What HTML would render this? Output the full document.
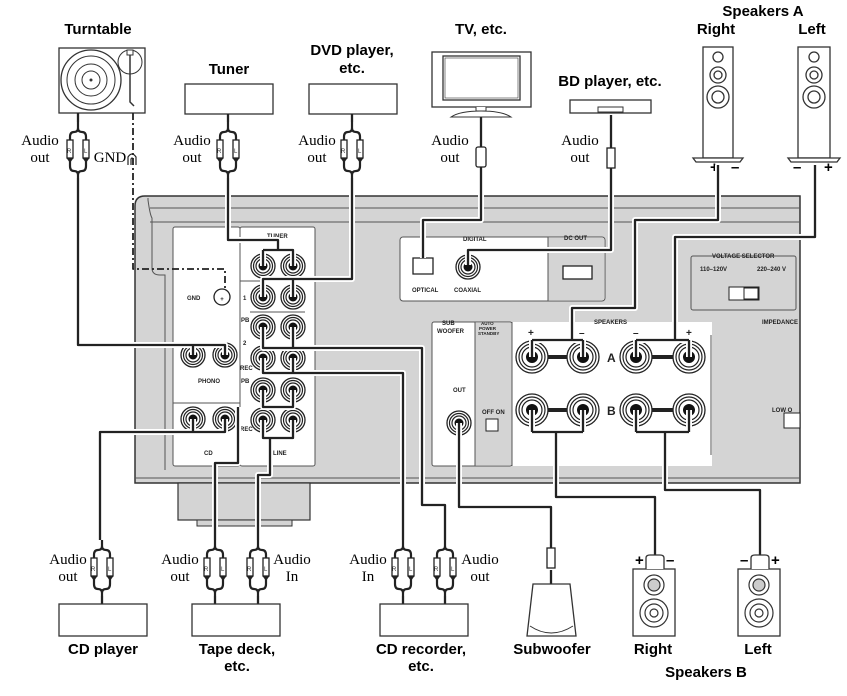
<!DOCTYPE html>
<html><head><meta charset="utf-8"><style>
html,body{margin:0;padding:0;background:#fff;width:847px;height:696px;overflow:hidden}
svg{display:block}
.b{font-family:"Liberation Sans",sans-serif;font-weight:bold;font-size:15px;fill:#000}
.s{font-family:"Liberation Serif",serif;font-size:15px;fill:#000}
.t{font-family:"Liberation Sans",sans-serif;font-weight:bold;font-size:6px;fill:#222}
.pl{font-family:"Liberation Sans",sans-serif;font-size:6px;fill:#333}
</style></head><body>
<svg width="847" height="696" viewBox="0 0 847 696" xmlns="http://www.w3.org/2000/svg">
<defs>
<g id="jack"><circle r="12" fill="#fff" stroke="#222" stroke-width="1.3"/><circle r="9.5" fill="none" stroke="#222" stroke-width="1.2"/><circle r="7" fill="none" stroke="#222" stroke-width="1.2"/><circle r="4.5" fill="#111"/></g>
<g id="spk"><circle r="16" fill="#fff" stroke="#222" stroke-width="1.3"/><circle r="13" fill="none" stroke="#222" stroke-width="1.2"/><circle r="10" fill="none" stroke="#222" stroke-width="1.2"/><circle r="6" fill="#111"/></g>
<g id="pair" fill="none" stroke="#222">
<path d="M0,-28 V-22 Q0,-18 -4,-18 Q-8,-18 -8,-13 V-10 M0,-22 Q0,-18 4,-18 Q8,-18 8,-13 V-10" stroke-width="2.2"/>
<path d="M-8,10 V16 Q-8,21 -4,21 Q0,21 0,25 V28 M8,10 V16 Q8,21 4,21 Q0,21 0,25" stroke-width="2.2"/>
<rect x="-11" y="-10" width="6" height="18" fill="#fff" stroke-width="1.3"/><rect x="5" y="-10" width="6" height="18" fill="#fff" stroke-width="1.3"/>
<path d="M-11,8 L-8,12 L-5,8 M5,8 L8,12 L11,8" fill="#222" stroke-width="1"/>
</g>
</defs>

<!-- device boxes top -->
<rect x="59" y="48" width="86" height="65" fill="#fff" stroke="#333" stroke-width="1.3"/>
<circle cx="91" cy="80" r="30" fill="none" stroke="#333" stroke-width="1.3"/><circle cx="91" cy="80" r="24" fill="none" stroke="#333"/><circle cx="91" cy="80" r="16" fill="none" stroke="#333"/><circle cx="91" cy="80" r="9" fill="none" stroke="#333"/><circle cx="91" cy="80" r="1.5" fill="#333"/>
<circle cx="130" cy="62" r="12" fill="none" stroke="#333"/><path d="M130,52 V102 L134,106" stroke="#333" stroke-width="1.5" fill="none"/><rect x="127" y="50" width="6" height="5" fill="#fff" stroke="#333"/>
<rect x="185" y="84" width="88" height="30" fill="#fff" stroke="#333" stroke-width="1.3"/>
<rect x="309" y="84" width="88" height="30" fill="#fff" stroke="#333" stroke-width="1.3"/>
<rect x="432" y="52" width="99" height="55" fill="#fff" stroke="#333" stroke-width="1.3"/><rect x="443" y="56" width="77" height="44" fill="#fff" stroke="#333" stroke-width="1.3"/><rect x="445" y="58" width="73" height="40" fill="none" stroke="#333" stroke-width=".6"/>
<path d="M476,107 V111 H486 V107 M451,117 Q460,111 481,111 Q502,111 511,117 Z" fill="#fff" stroke="#333"/>
<rect x="570" y="100" width="81" height="13" fill="#fff" stroke="#333" stroke-width="1.3"/><rect x="598" y="107" width="25" height="5" fill="#fff" stroke="#333"/>
<g fill="#fff" stroke="#333" stroke-width="1.3">
<rect x="703" y="47" width="30" height="111"/><path d="M693,158 H743 L740,162 H696 Z"/>
<rect x="798" y="47" width="32" height="111"/><path d="M788,158 H840 L837,162 H791 Z"/>
</g>
<g fill="none" stroke="#333" stroke-width="1.3">
<circle cx="718" cy="57" r="5"/><circle cx="718" cy="75" r="8"/><circle cx="718" cy="75" r="4"/><circle cx="718" cy="97" r="11"/><circle cx="718" cy="97" r="6"/>
<circle cx="814" cy="57" r="5"/><circle cx="814" cy="75" r="8"/><circle cx="814" cy="75" r="4"/><circle cx="814" cy="97" r="11"/><circle cx="814" cy="97" r="6"/>
</g>
<text class="b" x="710" y="172" font-size="11">+</text><text class="b" x="731" y="172" font-size="11">–</text>
<text class="b" x="793" y="172" font-size="11">–</text><text class="b" x="824" y="172" font-size="11">+</text>

<!-- panel -->
<path d="M145,196 H800 V483 H135 V206 Q135,196 145,196 Z" fill="#d4d4d4" stroke="#333" stroke-width="1.5"/>
<path d="M148,198 V200 Q150,215 152,218 V268 Q152,275 160,275 H165 V470 M150,222 H800 M150,208 H800 M135,478 H800" fill="none" stroke="#555" stroke-width="1"/>
<rect x="178" y="483" width="132" height="37" fill="#d4d4d4" stroke="#333" stroke-width="1.2"/>
<rect x="197" y="520" width="95" height="6" fill="#d4d4d4" stroke="#333"/>
<rect x="173" y="227" width="67" height="239" fill="#fff" stroke="#555" rx="2"/>
<line x1="173" y1="403" x2="240" y2="403" stroke="#555"/>
<rect x="240" y="227" width="75" height="239" fill="#fff" stroke="#555" rx="2"/>
<line x1="240" y1="281" x2="315" y2="281" stroke="#555"/><line x1="250" y1="312" x2="305" y2="312" stroke="#555"/>
<rect x="400" y="237" width="205" height="64" fill="#fff" stroke="#555" rx="3"/>
<rect x="548" y="238" width="56" height="62" fill="#d4d4d4"/><line x1="548" y1="237" x2="548" y2="301" stroke="#555"/>
<rect x="563" y="266" width="29" height="13" fill="#fff" stroke="#222" stroke-width="1.3"/>
<rect x="432" y="322" width="80" height="144" fill="#fff" stroke="#555" rx="2"/>
<rect x="475" y="323" width="37" height="142" fill="#d4d4d4"/><line x1="475" y1="322" x2="475" y2="466" stroke="#555"/>
<rect x="512" y="322" width="200" height="144" fill="#fff"/><line x1="512" y1="322" x2="512" y2="466" stroke="#555"/>
<line x1="711" y1="335" x2="711" y2="455" stroke="#555"/>
<rect x="691" y="256" width="105" height="54" fill="none" stroke="#555" rx="2"/>
<rect x="729" y="287" width="30" height="13" fill="#fff" stroke="#222"/><rect x="744" y="288" width="14" height="11" fill="none" stroke="#222"/>
<rect x="784" y="413" width="16" height="15" fill="#fff" stroke="#222"/>
<rect x="486" y="419" width="12" height="12" fill="#fff" stroke="#222"/>
<path d="M423,258 h-10 v16 h20 v-16 z" fill="#fff" stroke="#222" stroke-width="1.3"/>

<use href="#jack" x="263" y="266"/><use href="#jack" x="293" y="266"/>
<use href="#jack" x="263" y="297"/><use href="#jack" x="293" y="297"/>
<use href="#jack" x="263" y="327"/><use href="#jack" x="293" y="327"/>
<use href="#jack" x="263" y="358"/><use href="#jack" x="293" y="358"/>
<use href="#jack" x="263" y="390"/><use href="#jack" x="293" y="390"/>
<use href="#jack" x="263" y="420"/><use href="#jack" x="293" y="420"/>
<use href="#jack" x="193" y="355"/><use href="#jack" x="225" y="355"/>
<use href="#jack" x="193" y="419"/><use href="#jack" x="225" y="419"/>
<use href="#jack" x="468" y="267"/><use href="#jack" x="459" y="423"/>
<circle cx="222" cy="297" r="8" fill="#fff" stroke="#222" stroke-width="1.3"/><text x="222" y="301" text-anchor="middle" class="t" font-size="11">+</text>
<line x1="532" y1="357" x2="583" y2="357" stroke="#222" stroke-width="4"/><line x1="636" y1="357" x2="689" y2="357" stroke="#222" stroke-width="4"/>
<line x1="532" y1="410" x2="583" y2="410" stroke="#222" stroke-width="4"/><line x1="636" y1="410" x2="689" y2="410" stroke="#222" stroke-width="4"/>
<use href="#spk" x="532" y="357"/><use href="#spk" x="583" y="357"/><use href="#spk" x="636" y="357"/><use href="#spk" x="689" y="357"/>
<use href="#spk" x="532" y="410"/><use href="#spk" x="583" y="410"/><use href="#spk" x="636" y="410"/><use href="#spk" x="689" y="410"/>

<!-- panel labels -->
<g class="t">
<text x="267" y="238">TUNER</text><text x="187" y="300">GND</text><text x="243" y="300">1</text>
<text x="241" y="322">PB</text><text x="243" y="345">2</text><text x="240" y="370">REC</text><text x="241" y="383">PB</text><text x="240" y="431">REC</text>
<text x="198" y="383">PHONO</text><text x="204" y="455">CD</text><text x="273" y="455">LINE</text>
<text x="463" y="241">DIGITAL</text><text x="412" y="292">OPTICAL</text><text x="454" y="292">COAXIAL</text>
<text x="564" y="240">DC OUT</text><text x="442" y="325">SUB</text><text x="437" y="333">WOOFER</text><text x="453" y="392">OUT</text>
<text x="481" y="325" font-size="4.5">AUTO</text><text x="479" y="330" font-size="4.5">POWER</text><text x="478" y="335" font-size="4.5">STANDBY</text><text x="482" y="414">OFF ON</text>
<text x="594" y="324">SPEAKERS</text><text x="762" y="324">IMPEDANCE</text><text x="712" y="258">VOLTAGE SELECTOR</text>
<text x="700" y="271">110–120V</text><text x="757" y="271">220–240 V</text><text x="772" y="412">LOW O</text>
<text x="607" y="362" font-size="12">A</text><text x="607" y="415" font-size="12">B</text>
<text x="528" y="336" font-size="10">+</text><text x="579" y="336" font-size="10">–</text><text x="633" y="336" font-size="10">–</text><text x="686" y="336" font-size="10">+</text>
</g>

<!-- cables (white halo + black) -->
<g fill="none" stroke-linejoin="round">
<g stroke="#fff" stroke-width="6">
<path d="M78,178 V345 H225 V355 M193,345 V355"/>
<path d="M228,178 V240 H278 V250 M263,250 H293 V266 M263,250 V266"/>
<path d="M352,178 V279 H263 V297 M293,279 V297"/>
<path d="M481,175 V220 H423 V258"/>
<path d="M611,175 V250 H468 V265"/>
<path d="M718,165 V220 H635 V308 H572 V340 M532,340 H583 M532,340 V357 M583,340 V357"/>
<path d="M815,165 V237 H675 V340 M636,340 H689 M636,340 V357 M689,340 V357"/>
<path d="M556,432 V497 H655 V560 M532,432 H583 M532,410 V432 M583,410 V432"/>
<path d="M665,432 V490 H760 V560 M636,432 H689 M636,410 V432 M689,410 V432"/>
<path d="M459,423 V507 H551 V545"/>
<path d="M193,419 V432 H225 V419 M209,432 H100 V540"/>
<path d="M263,390 V407 H293 V390 M238,407 V463 H215 V540"/>
<path d="M263,420 V438 H293 V420 M270,438 V475 H258 V540"/>
<path d="M263,358 V373 H293 V358 M293,373 H403 V540"/>
<path d="M263,327 V348 H293 V327 M293,348 H422 V505 H445 V540"/>
</g>
<g stroke="#222" stroke-width="2.3">
<path d="M78,113 V122 M228,114 V122 M352,114 V122 M481,117 V147 M611,115 V148 M551,570 V584 M102,596 V604 M215,596 V604 M258,596 V604 M403,596 V604 M445,596 V604"/>
<path d="M78,178 V345 H225 V355 M193,345 V355"/>
<path d="M228,178 V240 H278 V250 M263,250 H293 V266 M263,250 V266"/>
<path d="M352,178 V279 H263 V297 M293,279 V297"/>
<path d="M481,165 V220 H423 V258"/>
<path d="M611,168 V250 H468 V265"/>
<path d="M718,165 V220 H635 V308 H572 V340 M532,340 H583 M532,340 V357 M583,340 V357"/>
<path d="M815,165 V237 H675 V340 M636,340 H689 M636,340 V357 M689,340 V357"/>
<path d="M556,432 V497 H655 V560 M532,432 H583 M532,410 V432 M583,410 V432"/>
<path d="M665,432 V490 H760 V560 M636,432 H689 M636,410 V432 M689,410 V432"/>
<path d="M459,423 V507 H551 V548"/>
<path d="M193,419 V432 H225 V419 M209,432 H100 V540"/>
<path d="M263,390 V407 H293 V390 M238,407 V463 H215 V540"/>
<path d="M263,420 V438 H293 V420 M270,438 V475 H258 V540"/>
<path d="M263,358 V373 H293 V358 M293,373 H403 V540"/>
<path d="M263,327 V348 H293 V327 M293,348 H422 V505 H445 V540"/>
</g>
<path d="M133,113 V269 H225 V290" stroke="#222" stroke-width="1.8" stroke-dasharray="7,3,2,3"/>
</g>
<path d="M128,165 v-8 q4,-6 8,0 v8 M131,165 v-6 q1,-2 2,0 v6" fill="none" stroke="#222" stroke-width="1.2"/>

<!-- plugs -->
<use href="#pair" x="78" y="150"/><use href="#pair" x="228" y="150"/><use href="#pair" x="352" y="150"/>
<use href="#pair" x="102" y="568"/><use href="#pair" x="215" y="568"/><use href="#pair" x="258" y="568"/><use href="#pair" x="403" y="568"/><use href="#pair" x="445" y="568"/>
<g class="pl">
<text x="67" y="153">R</text><text x="84" y="153">L</text><text x="217" y="153">R</text><text x="234" y="153">L</text><text x="341" y="153">R</text><text x="358" y="153">L</text>
<text x="91" y="571">R</text><text x="108" y="571">L</text><text x="204" y="571">R</text><text x="221" y="571">L</text><text x="247" y="571">R</text><text x="264" y="571">L</text>
<text x="392" y="571">R</text><text x="409" y="571">L</text><text x="434" y="571">R</text><text x="451" y="571">L</text>
</g>
<g fill="#fff" stroke="#222" stroke-width="1.3">
<rect x="476" y="147" width="10" height="20" rx="2"/><rect x="607" y="148" width="8" height="20"/><rect x="547" y="548" width="8" height="20"/>
</g>

<!-- bottom devices -->
<g fill="#fff" stroke="#333" stroke-width="1.3">
<rect x="59" y="604" width="88" height="32"/><rect x="192" y="604" width="88" height="32"/><rect x="380" y="604" width="88" height="32"/>
<path d="M533,584 H570 L576,636 H527 Z"/>
<rect x="633" y="569" width="42" height="67"/><rect x="738" y="569" width="42" height="67"/>
<path d="M646,569 V558 Q646,555 650,555 H660 Q664,555 664,558 V569 M751,569 V558 Q751,555 755,555 H765 Q769,555 769,558 V569"/>
</g>
<path d="M530,626 Q551,640 573,626" fill="none" stroke="#333"/>
<g fill="none" stroke="#333" stroke-width="1.2">
<circle cx="654" cy="585" r="10"/><circle cx="654" cy="585" r="6" fill="#ccc"/><circle cx="654" cy="613" r="14"/><circle cx="654" cy="613" r="9"/><circle cx="654" cy="613" r="4"/>
<circle cx="759" cy="585" r="10"/><circle cx="759" cy="585" r="6" fill="#ccc"/><circle cx="759" cy="613" r="14"/><circle cx="759" cy="613" r="9"/><circle cx="759" cy="613" r="4"/>
</g>
<text class="b" x="635" y="565" font-size="11">+</text><text class="b" x="666" y="565" font-size="11">–</text>
<text class="b" x="740" y="565" font-size="11">–</text><text class="b" x="771" y="565" font-size="11">+</text>

<!-- labels -->
<g class="b" text-anchor="middle">
<text x="98" y="34">Turntable</text><text x="229" y="74">Tuner</text><text x="352" y="55">DVD player,</text><text x="352" y="73">etc.</text>
<text x="481" y="34">TV, etc.</text><text x="610" y="86">BD player, etc.</text><text x="763" y="16">Speakers A</text><text x="716" y="34">Right</text><text x="812" y="34">Left</text>
<text x="103" y="654">CD player</text><text x="237" y="654">Tape deck,</text><text x="237" y="671">etc.</text><text x="421" y="654">CD recorder,</text><text x="421" y="671">etc.</text>
<text x="552" y="654">Subwoofer</text><text x="653" y="654">Right</text><text x="758" y="654">Left</text><text x="706" y="677">Speakers B</text>
</g>
<g class="s" text-anchor="middle">
<text x="40" y="145">Audio</text><text x="40" y="162">out</text><text x="110" y="162">GND</text>
<text x="192" y="145">Audio</text><text x="192" y="162">out</text><text x="317" y="145">Audio</text><text x="317" y="162">out</text>
<text x="450" y="145">Audio</text><text x="450" y="162">out</text><text x="580" y="145">Audio</text><text x="580" y="162">out</text>
<text x="68" y="564">Audio</text><text x="68" y="581">out</text><text x="180" y="564">Audio</text><text x="180" y="581">out</text>
<text x="292" y="564">Audio</text><text x="292" y="581">In</text><text x="368" y="564">Audio</text><text x="368" y="581">In</text>
<text x="480" y="564">Audio</text><text x="480" y="581">out</text>
</g>
</svg>
</body></html>
